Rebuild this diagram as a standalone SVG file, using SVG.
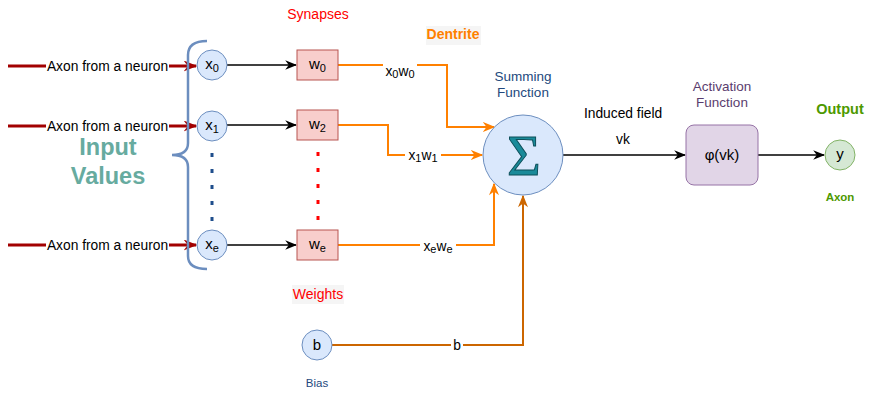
<svg xmlns="http://www.w3.org/2000/svg" width="871" height="400" viewBox="0 0 871 400">
<defs>
<style>
text{font-family:"Liberation Sans",Arial,sans-serif;text-anchor:middle;}
.lbl{font-size:13.8px;fill:#000;}
.node{font-size:15px;fill:#000;}
.sub{font-size:11px;}
.circ{fill:#dae8fc;stroke:#6c8ebf;stroke-width:1;}
.wbox{fill:#f8cecc;stroke:#b85450;stroke-width:1;}
.red{stroke:#a20000;stroke-width:3;fill:none;}
.blk{stroke:#000;stroke-width:1.5;fill:none;}
.org{stroke:#ff8000;stroke-width:2;fill:none;}
.bias{stroke:#cc6600;stroke-width:2;fill:none;}
.bg{fill:#fff;}
</style>
<marker id="aRed" viewBox="0 0 10 8" refX="9" refY="4" markerWidth="14" markerHeight="11" markerUnits="userSpaceOnUse" orient="auto"><path d="M0,0 L10,4 L0,8 L3,4 z" fill="#a20000"/></marker>
<marker id="aBlk" viewBox="0 0 10 8" refX="9" refY="4" markerWidth="12" markerHeight="10" markerUnits="userSpaceOnUse" orient="auto"><path d="M0,0 L10,4 L0,8 L3,4 z" fill="#000"/></marker>
<marker id="aOrg" viewBox="0 0 10 8" refX="9" refY="4" markerWidth="13" markerHeight="10" markerUnits="userSpaceOnUse" orient="auto"><path d="M0,0 L10,4 L0,8 L3,4 z" fill="#ff8000"/></marker>
<marker id="aBias" viewBox="0 0 10 8" refX="9" refY="4" markerWidth="13" markerHeight="10" markerUnits="userSpaceOnUse" orient="auto"><path d="M0,0 L10,4 L0,8 L3,4 z" fill="#cc6600"/></marker>
</defs>
<rect width="871" height="400" fill="#fff"/>

<g id="connectors">
  <line class="red" x1="8" y1="66" x2="196" y2="66" marker-end="url(#aRed)"/>
  <line class="red" x1="8" y1="126" x2="196" y2="126" marker-end="url(#aRed)"/>
  <line class="red" x1="8" y1="245" x2="196" y2="245" marker-end="url(#aRed)"/>
  <rect class="bg" x="46" y="58" width="123" height="17"/>
  <rect class="bg" x="46" y="118" width="123" height="17"/>
  <rect class="bg" x="46" y="237" width="123" height="17"/>
  <text class="lbl" x="107.5" y="71">Axon from a neuron</text>
  <text class="lbl" x="107.5" y="131">Axon from a neuron</text>
  <text class="lbl" x="107.5" y="250">Axon from a neuron</text>
  <line class="blk" x1="227" y1="65" x2="296" y2="65" marker-end="url(#aBlk)"/>
  <line class="blk" x1="227" y1="125" x2="296" y2="125" marker-end="url(#aBlk)"/>
  <line class="blk" x1="227" y1="245" x2="296" y2="245" marker-end="url(#aBlk)"/>
  <polyline class="org" points="338,65 447,65 447,127 494,127" marker-end="url(#aOrg)"/>
  <polyline class="org" points="338,125 388,125 388,155 482,155" marker-end="url(#aOrg)"/>
  <polyline class="org" points="338,245 494,245 494,184" marker-end="url(#aOrg)"/>
  <rect class="bg" x="383" y="62" width="34" height="18"/>
  <text class="lbl" x="400" y="76">x<tspan class="sub" dy="2">0</tspan><tspan dy="-2">w</tspan><tspan class="sub" dy="2">0</tspan></text>
  <rect class="bg" x="405" y="147" width="36" height="18"/>
  <text class="lbl" x="423" y="160">x<tspan class="sub" dy="2">1</tspan><tspan dy="-2">w</tspan><tspan class="sub" dy="2">1</tspan></text>
  <rect class="bg" x="420" y="238" width="36" height="18"/>
  <text class="lbl" x="438" y="251">x<tspan class="sub" dy="2">e</tspan><tspan dy="-2">w</tspan><tspan class="sub" dy="2">e</tspan></text>
  <polyline class="bias" points="332,345 523,345 523,196" marker-end="url(#aBias)"/>
  <rect class="bg" x="451" y="337" width="12" height="16"/>
  <text class="lbl" x="457" y="350">b</text>
  <line class="blk" x1="563" y1="155" x2="685" y2="155" stroke-width="1" marker-end="url(#aBlk)"/>
  <line class="blk" x1="758" y1="155" x2="824" y2="155" stroke-width="1" marker-end="url(#aBlk)"/>
</g>

<g id="brace">
  <path d="M207,41 Q188,41 188,55 L188,143 Q188,155 172,155 Q188,155 188,167 L188,256 Q188,269 207,269" fill="none" stroke="#6c8ebf" stroke-width="2.5"/>
</g>
<g id="input-label">
  <text x="108" y="155" font-size="23.5" font-weight="bold" fill="#67ab9f">Input</text>
  <text x="108" y="184" font-size="23.5" font-weight="bold" fill="#67ab9f">Values</text>
</g>

<g id="x0"><circle class="circ" cx="212" cy="65" r="15"/><text class="node" x="212" y="69">x<tspan class="sub" dy="3">0</tspan></text></g>
<g id="x1"><circle class="circ" cx="212" cy="126" r="15"/><text class="node" x="212" y="130">x<tspan class="sub" dy="3">1</tspan></text></g>
<g id="xe"><circle class="circ" cx="212" cy="245" r="15"/><text class="node" x="212" y="249">x<tspan class="sub" dy="3">e</tspan></text></g>
<g id="xdots" fill="#1f4e8c">
  <rect x="210.5" y="153" width="3" height="4"/><rect x="210.5" y="169" width="3" height="4"/><rect x="210.5" y="185" width="3" height="4"/><rect x="210.5" y="201" width="3" height="4"/><rect x="210.5" y="217" width="3" height="4"/>
</g>

<g id="w0"><rect class="wbox" x="297" y="50" width="41" height="30"/><text class="node" x="317.5" y="69">w<tspan class="sub" dy="3">0</tspan></text></g>
<g id="w2"><rect class="wbox" x="297" y="110" width="41" height="30"/><text class="node" x="317.5" y="129">w<tspan class="sub" dy="3">2</tspan></text></g>
<g id="we"><rect class="wbox" x="297" y="230" width="41" height="30"/><text class="node" x="317.5" y="249">w<tspan class="sub" dy="3">e</tspan></text></g>
<g id="wdots" fill="#ff0000">
  <rect x="316.5" y="152" width="3" height="4"/><rect x="316.5" y="168" width="3" height="4"/><rect x="316.5" y="184" width="3" height="4"/><rect x="316.5" y="200" width="3" height="4"/><rect x="316.5" y="216" width="3" height="4"/>
</g>

<g id="synapses-label"><text x="318" y="19" font-size="14" fill="#ff0000">Synapses</text></g>
<g id="weights-label"><rect x="292" y="285" width="52" height="19" fill="#f5f5f5"/><text x="318" y="299" font-size="14" fill="#ff0000">Weights</text></g>
<g id="dentrite-label"><rect x="426" y="26" width="55" height="19" fill="#f5f5f5"/><text x="453" y="39" font-size="14" font-weight="bold" fill="#ff8000">Dentrite</text></g>

<g id="sigma">
  <circle class="circ" cx="523" cy="155" r="40"/>
  <text x="524" y="175" style="font-family:'Liberation Serif','Times New Roman',serif;font-size:58px;" fill="#1a8a99" stroke="#0d4f5a" stroke-width="1">Σ</text>
</g>
<g id="summing-label">
  <text x="523" y="81" font-size="13.5" fill="#23497d">Summing</text>
  <text x="523" y="97" font-size="13.5" fill="#23497d">Function</text>
</g>

<g id="induced-label">
  <text class="lbl" x="623" y="118">Induced field</text>
  <text class="lbl" x="623" y="144">vk</text>
</g>

<g id="activation">
  <rect x="686" y="125" width="72" height="60" rx="8" fill="#e1d5e7" stroke="#9673a6"/>
  <text x="722" y="160" font-size="15" fill="#000">φ(vk)</text>
</g>
<g id="activation-label">
  <text x="722" y="91" font-size="13.5" fill="#5a3d6e">Activation</text>
  <text x="722" y="107" font-size="13.5" fill="#5a3d6e">Function</text>
</g>

<g id="y">
  <circle cx="840" cy="155" r="15" fill="#d5e8d4" stroke="#82b366"/>
  <text class="node" x="840" y="159">y</text>
</g>
<g id="output-label"><text x="840" y="114" font-size="14.5" font-weight="bold" fill="#4d9900">Output</text></g>
<g id="axon-label"><text x="840" y="201" font-size="11.5" font-weight="bold" fill="#4d9900">Axon</text></g>

<g id="b">
  <circle class="circ" cx="317" cy="345" r="15"/>
  <text class="node" x="317" y="350">b</text>
</g>
<g id="bias-label"><text x="317" y="387" font-size="11.5" fill="#23497d">Bias</text></g>
</svg>
